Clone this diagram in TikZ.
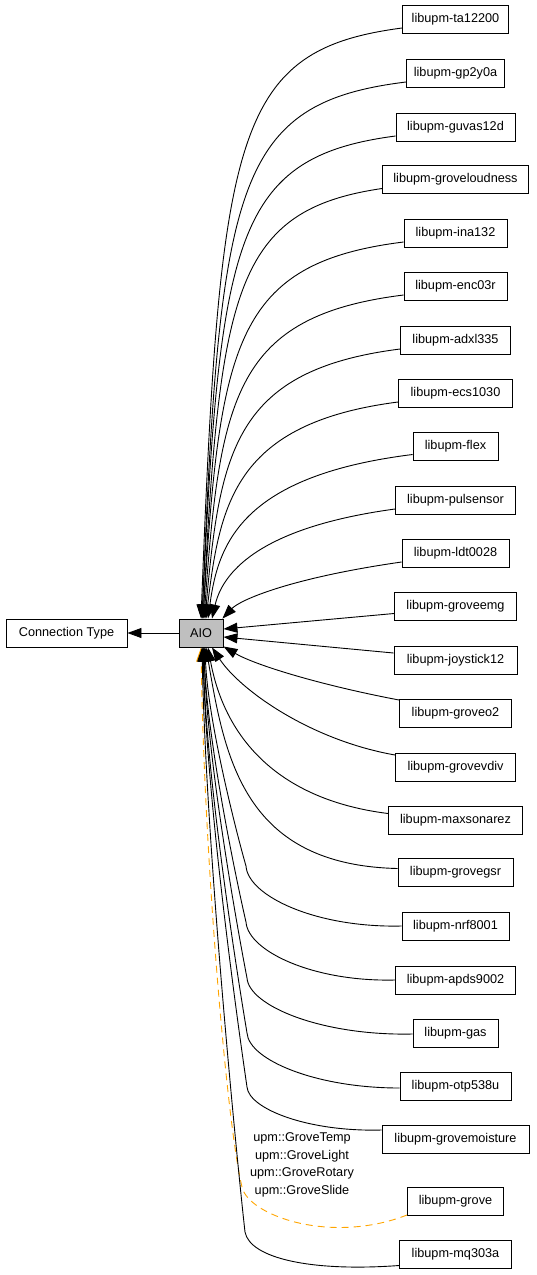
\documentclass[tikz,border=0pt]{standalone}
\usepackage{fontspec}
\setmainfont{Liberation Sans}
\usetikzlibrary{arrows.meta,calc}
\definecolor{dorange}{HTML}{FFA500}
\definecolor{aiofill}{HTML}{BFBFBF}
\newcommand\gvfont{\fontsize{12.7pt}{17.5pt}\selectfont}
\begin{document}
\begin{tikzpicture}[x=1pt,y=-1pt,
  box/.style={draw=black,line width=0.9pt,minimum height=28pt,inner sep=0pt,font=\gvfont},
  lib/.style={box,minimum width=#1},
  edge/.style={line width=0.9pt,-{Triangle[length=14pt,width=10pt]}},
  dedge/.style={edge,draw=dorange,dash pattern=on 7pt off 5pt}]
\useasboundingbox (0,0) rectangle (536,1275);
% main nodes
\node[box,minimum width=121pt] (ct) at (66.5,633) {Connection Type};
\node[box,minimum width=44pt,fill=aiofill] (aio) at (201,633) {AIO};
% right column
\node[lib=106pt] (ta)    at (455.5,19)    {libupm-ta12200};
\node[lib=98pt]  (gp)    at (455.5,73)    {libupm-gp2y0a};
\node[lib=119pt] (guvas) at (455.5,127)   {libupm-guvas12d};
\node[lib=146pt] (loud)  at (455.5,179.5) {libupm-groveloudness};
\node[lib=103pt] (ina)   at (455.5,233)   {libupm-ina132};
\node[lib=103pt] (enc)   at (455.5,286)   {libupm-enc03r};
\node[lib=110pt] (adxl)  at (455.5,340)   {libupm-adxl335};
\node[lib=114pt] (ecs)   at (455.5,393)   {libupm-ecs1030};
\node[lib=85pt]  (flex)  at (455.5,446.5) {libupm-flex};
\node[lib=120pt] (puls)  at (455.5,500)   {libupm-pulsensor};
\node[lib=107pt] (ldt)   at (455.5,553)   {libupm-ldt0028};
\node[lib=122pt] (emg)   at (455.5,606.5) {libupm-groveemg};
\node[lib=123pt] (joy)   at (455.5,660)   {libupm-joystick12};
\node[lib=112pt] (otwo)  at (455.5,713)   {libupm-groveo2};
\node[lib=120pt] (vdiv)  at (455.5,767)   {libupm-grovevdiv};
\node[lib=134pt] (maxs)  at (455.5,820.5) {libupm-maxsonarez};
\node[lib=115pt] (gsr)   at (455.5,872.5) {libupm-grovegsr};
\node[lib=107pt] (nrf)   at (455.5,926)   {libupm-nrf8001};
\node[lib=120pt] (apds)  at (455.5,980)   {libupm-apds9002};
\node[lib=85pt]  (gas)   at (455.5,1033)  {libupm-gas};
\node[lib=111pt] (otp)   at (455.5,1086)  {libupm-otp538u};
\node[lib=147pt] (moist) at (455.5,1139)  {libupm-grovemoisture};
\node[lib=96pt]  (grove) at (455.5,1201)  {libupm-grove};
\node[lib=112pt] (mq)    at (455.5,1254.5){libupm-mq303a};
% edge label
\node[font=\gvfont,align=center,inner sep=0pt] (lbl) at (302,1165)
  {upm::GroveTemp\\upm::GroveLight\\upm::GroveRotary\\upm::GroveSlide};
% AIO -> Connection Type
\draw[edge] (aio.west) -- (ct.east);
% dashed edge first
\draw[dedge] ($(grove.west)+(0,14)$) .. controls (330,1245) and (248,1215) .. (242,1187)
   .. controls (226,1120) and (204,850) .. ($(aio.south)+(0,0)$);
% upper edges
\draw[edge] ($(ta.west)+(0,9)$)    .. controls (235,50)  and (220,130) .. ($(aio.north)+(0,0)$);
\draw[edge] ($(gp.west)+(0,9)$)    .. controls (235,103) and (220,183) .. ($(aio.north)+(1,0)$);
\draw[edge] ($(guvas.west)+(0,9)$) .. controls (235,157) and (220,237) .. ($(aio.north)+(1,0)$);
\draw[edge] ($(loud.west)+(0,9)$)  .. controls (235,210) and (220,290) .. ($(aio.north)+(2,0)$);
\draw[edge] ($(ina.west)+(0,9)$)   .. controls (235,263) and (220,343) .. ($(aio.north)+(2,0)$);
\draw[edge] ($(enc.west)+(0,9)$)   .. controls (235,316) and (220,396) .. ($(aio.north)+(3,0)$);
\draw[edge] ($(adxl.west)+(0,9)$)  .. controls (235,370) and (220,450) .. ($(aio.north)+(4,0)$);
\draw[edge] ($(ecs.west)+(0,9)$)   .. controls (235,423) and (220,503) .. ($(aio.north)+(5,0)$);
\draw[edge] ($(flex.west)+(0,8)$)  .. controls (240,476) and (218,545) .. ($(aio.north)+(7,0)$);
\draw[edge] ($(puls.west)+(0,9)$)  .. controls (255,528) and (222,575) .. ($(aio.north)+(11,0)$);
\draw[edge] ($(ldt.west)+(0,9)$)   .. controls (290,578) and (240,600) .. ($(aio.north east)+(-1,0)$);
% side edges
\draw[edge] ($(emg.west)+(0,7)$) -- ($(aio.east)+(0,-4)$);
\draw[edge] ($(joy.west)+(0,-7)$) -- ($(aio.east)+(0,4)$);
\draw[edge] ($(otwo.west)+(0,-13)$) .. controls (320,685) and (255,665) .. ($(aio.south east)+(0,-1)$);
% lower edges
\draw[edge] ($(vdiv.west)+(0,-12)$) .. controls (310,740) and (240,690) .. ($(aio.south)+(11,0)$);
\draw[edge] ($(maxs.west)+(0,-7)$)  .. controls (280,800) and (225,740) .. ($(aio.south)+(7,0)$);
\draw[edge] ($(gsr.west)+(0,-4)$)   .. controls (245,865) and (225,760) .. ($(aio.south)+(5,0)$);
\draw[edge] (nrf.west) .. controls (316,928) and (248,896) .. (246,866)
   .. controls (239,842) and (208,724) .. ($(aio.south)+(4,0)$);
\draw[edge] (apds.west) .. controls (313,982) and (248,951) .. (246,922)
   .. controls (239,892) and (207,743) .. ($(aio.south)+(3,0)$);
\draw[edge] ($(gas.west)+(0,1)$) .. controls (322,1036) and (249,1006) .. (247,978)
   .. controls (240,942) and (207,763) .. ($(aio.south)+(3,0)$);
\draw[edge] ($(otp.west)+(0,2)$) .. controls (316,1088) and (249,1060) .. (247,1033)
   .. controls (240,991) and (206,782) .. ($(aio.south)+(2,0)$);
\draw[edge] ($(moist.west)+(0,-9)$) .. controls (308,1132) and (249,1109) .. (247,1087)
   .. controls (240,1039) and (206,801) .. ($(aio.south)+(2,0)$);
\draw[edge] ($(mq.west)+(0,11)$) .. controls (310,1272) and (250,1258) .. (245,1232)
   .. controls (238,1170) and (206,850) .. ($(aio.south)+(1,0)$);
\end{tikzpicture}
\end{document}
